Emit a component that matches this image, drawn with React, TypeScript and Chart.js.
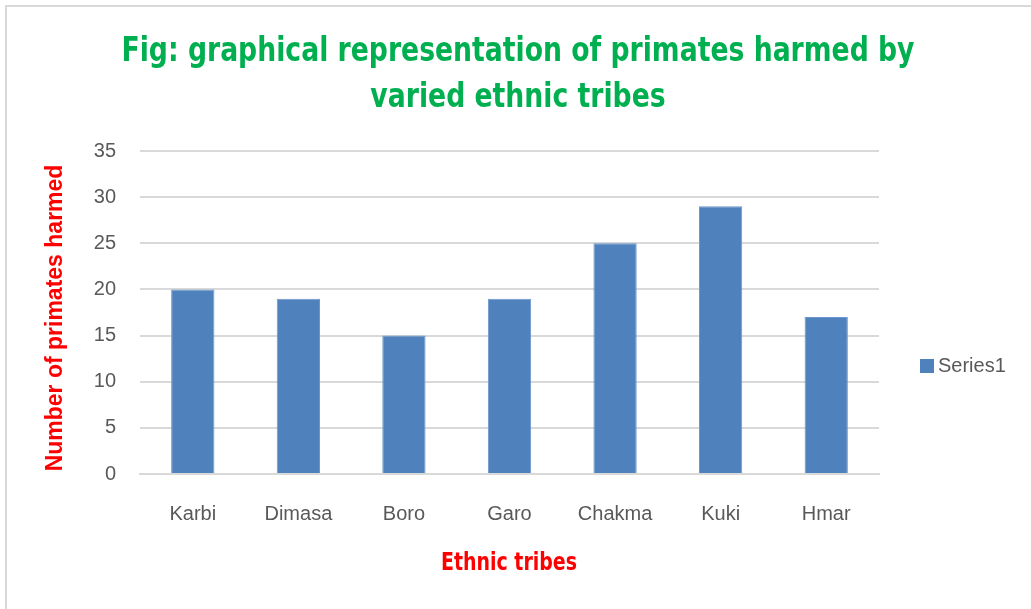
import React, { useEffect, useRef } from "react";
import { Chart, registerables } from "chart.js";

Chart.register(...registerables);

const categories = ["Karbi", "Dimasa", "Boro", "Garo", "Chakma", "Kuki", "Hmar"];
const series1 = [20, 19, 15, 19, 25, 29, 17];
const seriesLabel = "Series1";
const titleLines = ["Fig: graphical representation of primates harmed by", "varied ethnic tribes"];
const xTitle = "Ethnic tribes";
const yTitle = "Number of primates harmed";
const yMin = 0;
const yMax = 35;
const yStep = 5;

const NARROW = "'DejaVu Sans Condensed', 'Liberation Sans Narrow', sans-serif";
const REG = "'Liberation Sans', Arial, sans-serif";

function fitText(ctx: any, text: string, x: number, y: number, targetWidth: number, rotate = 0) {
  const w = ctx.measureText(text).width;
  const s = Math.min(1, targetWidth / w);
  ctx.save();
  ctx.translate(x, y);
  if (rotate) ctx.rotate(rotate);
  ctx.scale(s, 1);
  ctx.fillText(text, 0, 0);
  ctx.restore();
}

const decorPlugin = {
  id: "decor",
  afterDraw(chart: any) {
    const ctx = chart.ctx;
    const ds = chart.data.datasets[0];
    ctx.save();
    // Title
    ctx.fillStyle = "#00B050";
    ctx.font = "bold 34px " + NARROW;
    ctx.textAlign = "center";
    ctx.textBaseline = "alphabetic";
    const s = Math.min(1, 793 / ctx.measureText(titleLines[0]).width);
    titleLines.forEach((line: string, i: number) => {
      ctx.save();
      ctx.translate(518, 61 + i * 46);
      ctx.scale(s, 1);
      ctx.fillText(line, 0, 0);
      ctx.restore();
    });
    // X title
    ctx.fillStyle = "#FF0000";
    ctx.font = "bold 24px " + NARROW;
    fitText(ctx, xTitle, 509, 570, 136);
    // Y title
    ctx.font = "bold 23px " + REG;
    ctx.textBaseline = "middle";
    fitText(ctx, yTitle, 56, 318, 315, -Math.PI / 2);
    // Legend
    ctx.fillStyle = ds.backgroundColor;
    ctx.fillRect(920, 359, 14, 14);
    ctx.fillStyle = "#595959";
    ctx.font = "20px " + REG;
    ctx.textBaseline = "middle";
    ctx.textAlign = "left";
    ctx.fillText(ds.label, 938, 366);
    ctx.restore();
  },
};

export default function App() {
  const ref = useRef<HTMLCanvasElement>(null);
  useEffect(() => {
    const chart = new Chart(ref.current as HTMLCanvasElement, {
      type: "bar",
      data: {
        labels: categories,
        datasets: [
          {
            label: seriesLabel,
            data: series1,
            backgroundColor: "#4F81BD",
            borderColor: "#6B96CB",
            borderWidth: 1,
            barPercentage: 0.41,
            categoryPercentage: 1,
          },
        ],
      },
      options: {
        animation: false,
        responsive: false,
        layout: { padding: { top: 151, left: 0, right: 152, bottom: 0 } },
        plugins: {
          legend: { display: false },
          tooltip: { enabled: false },
          title: { display: false },
        },
        scales: {
          x: {
            grid: { display: false, drawTicks: false },
            border: { color: "#D9D9D9", width: 2 },
            ticks: { color: "#595959", font: { family: REG, size: 20 }, padding: 28, maxRotation: 0 },
            afterFit: (s: any) => {
              s.height = 135;
            },
          },
          y: {
            min: yMin,
            max: yMax,
            ticks: { stepSize: yStep, color: "#595959", font: { family: REG, size: 20 }, padding: 24 },
            grid: { color: "#D9D9D9", lineWidth: 2, drawTicks: false },
            border: { display: false },
            afterFit: (s: any) => {
              s.width = 140;
            },
          },
        },
      },
      plugins: [decorPlugin],
    });
    return () => chart.destroy();
  }, []);
  return (
    <div style={{ position: "fixed", left: 0, top: 0, width: 1031, height: 609, background: "#fff" }}>
      <div
        style={{
          position: "absolute",
          left: 5,
          top: 5,
          width: 1040,
          height: 620,
          borderLeft: "2px solid #D9D9D9",
          borderTop: "2px solid #D9D9D9",
        }}
      />
      <canvas ref={ref} width={1031} height={609} style={{ position: "absolute", left: 0, top: 0, width: 1031, height: 609 }} />
    </div>
  );
}
